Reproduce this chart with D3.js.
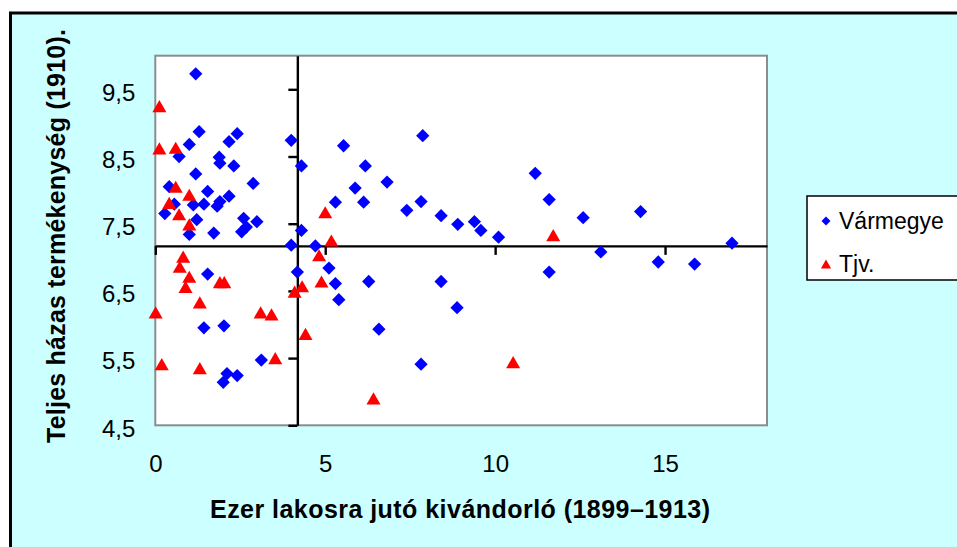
<!DOCTYPE html>
<html>
<head>
<meta charset="utf-8">
<script src="https://cdn.jsdelivr.net/npm/d3@7"></script>
<style>
  html, body { margin: 0; padding: 0; background: #fff; }
  svg { display: block; }
  text { font-family: Arial, "Liberation Sans", sans-serif; fill: #000; }
</style>
</head>
<body>
<svg id="chart" width="957" height="547"></svg>
<script>
// Vármegye (county) points: emigrants per thousand inhabitants, total marital fertility
const countyX = [1.19, 1.29, 1.00, 0.70, 2.17, 2.41, 1.88, 1.90, 2.31, 1.19,
                 4.00, 4.30, 2.88, 0.41, 1.54, 2.17, 0.56, 1.12, 1.43, 1.90,
                 1.82, 0.28, 1.22, 2.60, 2.99, 2.68, 2.54, 1.00, 1.72, 4.30,
                 4.00, 1.54, 1.43, 2.02, 3.12, 2.11, 2.41, 2.00, 4.18, 5.54,
                 6.18, 7.87, 5.88, 6.82, 5.30, 6.13, 7.40, 7.82, 8.41, 8.90,
                 9.39, 9.58, 10.10, 11.18, 11.59, 12.59, 14.28, 16.97, 13.11, 14.80,
                 15.87, 11.59, 4.71, 5.11, 5.30, 5.40, 6.28, 8.41, 8.88, 6.58,
                 7.82];
const countyY = [9.73, 8.87, 8.68, 8.50, 8.72, 8.84, 8.49, 8.40, 8.36, 8.24,
                 8.74, 8.36, 8.10, 8.05, 7.98, 7.91, 7.79, 7.78, 7.79, 7.83,
                 7.76, 7.65, 7.56, 7.58, 7.53, 7.45, 7.38, 7.34, 7.36, 7.40,
                 7.18, 6.75, 5.95, 5.98, 5.47, 5.27, 5.24, 5.14, 6.78, 8.66,
                 8.36, 8.81, 8.03, 8.12, 7.82, 7.82, 7.70, 7.83, 7.62, 7.49,
                 7.53, 7.40, 7.30, 8.25, 7.86, 7.59, 7.68, 7.21, 7.08, 6.93,
                 6.90, 6.78, 7.17, 6.84, 6.61, 6.37, 6.64, 6.64, 6.25, 5.93,
                 5.41];

// Tjv. (town with municipal rights) points
const townX = [0.12, 0.12, 0.60, 0.60, 1.00, 0.41, 0.70, 1.00, 0.82, 0.72,
               1.00, 0.89, 1.90, 2.03, 1.31, 0.01, 3.10, 3.42, 0.19, 1.31,
               3.53, 4.10, 4.32, 4.42, 5.00, 5.18, 4.82, 4.89, 6.42, 11.71,
               10.53];
const townY = [9.25, 8.62, 8.63, 8.05, 7.93, 7.81, 7.64, 7.49, 7.01, 6.86,
               6.71, 6.56, 6.63, 6.63, 6.33, 6.18, 6.18, 6.15, 5.41, 5.35,
               5.50, 6.49, 6.57, 5.86, 7.67, 7.25, 7.03, 6.64, 4.90, 7.33,
               5.44];

// Axis setup
const xDomain = [0, 18];
const yDomain = [4.5, 10];
const xTicks = [0, 5, 10, 15];
const yTicks = [4.5, 5.5, 6.5, 7.5, 8.5, 9.5];
const xCross = 4.18;   // where the value axis crosses the category axis
const yCross = 7.17;   // where the category axis crosses the value axis

const seriesNames = ["Vármegye", "Tjv."];
const xTitle = "Ezer lakosra jutó kivándorló (1899–1913)";
const yTitle = "Teljes házas termékenység (1910).";

const county = countyX.map((x, i) => ({ x, y: countyY[i] }));
const town = townX.map((x, i) => ({ x, y: townY[i] }));

const svg = d3.select("#chart");

// Chart background and frame
svg.append("rect").attr("x", 0).attr("y", 0).attr("width", 957).attr("height", 547).attr("fill", "#fff");
svg.append("rect")
  .attr("x", 10.5).attr("y", 13).attr("width", 1000).attr("height", 600)
  .attr("fill", "#CCFFFF").attr("stroke", "#000").attr("stroke-width", 3);

const plot = { left: 155.3, top: 55.7, right: 767, bottom: 425.3 };
const x = d3.scaleLinear().domain(xDomain).range([plot.left, plot.right]);
const y = d3.scaleLinear().domain(yDomain).range([plot.bottom, plot.top]);

// Plot area
svg.append("rect")
  .attr("x", plot.left).attr("y", plot.top)
  .attr("width", plot.right - plot.left).attr("height", plot.bottom - plot.top)
  .attr("fill", "#fff").attr("stroke", "#8c8c8c").attr("stroke-width", 2);

const locale = d3.formatLocale({ decimal: ",", thousands: " ", grouping: [3], currency: ["", ""] });
const fmtY = locale.format(".1f");

// Tick labels along the plot edges
const yLabelAxis = svg.append("g")
  .attr("transform", `translate(${plot.left},0)`)
  .call(d3.axisLeft(y).tickValues(yTicks).tickFormat(fmtY).tickSize(0).tickPadding(20));
yLabelAxis.select(".domain").remove();
yLabelAxis.selectAll("text").attr("font-size", 24).attr("dy", "0.45em")
  .style("font-family", "Arial, 'Liberation Sans', sans-serif");

const xLabelAxis = svg.append("g")
  .attr("transform", `translate(0,${plot.bottom})`)
  .call(d3.axisBottom(x).tickValues(xTicks).tickFormat(d3.format("d")).tickSize(0).tickPadding(30));
xLabelAxis.select(".domain").remove();
xLabelAxis.selectAll("text").attr("font-size", 24)
  .style("font-family", "Arial, 'Liberation Sans', sans-serif");

// Crossing axis lines with tick marks
const yLine = svg.append("g")
  .attr("transform", `translate(${x(xCross)},0)`)
  .call(d3.axisLeft(y).tickValues(yTicks).tickFormat("").tickSize(9).tickSizeOuter(0));
yLine.select(".domain").attr("stroke", "#000").attr("stroke-width", 2.4);
yLine.selectAll(".tick line").attr("stroke", "#000").attr("stroke-width", 2.4);

const xLine = svg.append("g")
  .attr("transform", `translate(0,${y(yCross)})`)
  .call(d3.axisBottom(x).tickValues(xTicks).tickFormat("").tickSize(9).tickSizeOuter(0));
xLine.select(".domain").attr("stroke", "#000").attr("stroke-width", 2.4);
xLine.selectAll(".tick line").attr("stroke", "#000").attr("stroke-width", 2.4);

// Markers
const diamondSize = 88;
const triangleSize = 85;
const diamond = d3.symbol().type(d3.symbolSquare).size(diamondSize);
const triangle = d3.symbol().type(d3.symbolTriangle).size(triangleSize);
// triangle side/height, used to centre its bounding box on the point
const triSide = Math.sqrt(triangleSize * 4 / Math.sqrt(3));
const triShift = (triSide * Math.sqrt(3) / 2) / 6;

svg.append("g").selectAll("path")
  .data(county).join("path")
  .attr("d", diamond)
  .attr("transform", d => `translate(${x(d.x)},${y(d.y)}) rotate(45)`)
  .attr("fill", "#0000FF");

svg.append("g").selectAll("path")
  .data(town).join("path")
  .attr("d", triangle)
  .attr("transform", d => `translate(${x(d.x)},${y(d.y) + triShift})`)
  .attr("fill", "#FF0000");

// Axis titles
svg.append("text")
  .attr("x", 460).attr("y", 518)
  .attr("text-anchor", "middle")
  .attr("font-size", 25).attr("font-weight", "bold")
  .attr("textLength", 500).attr("lengthAdjust", "spacing")
  .text(xTitle);

svg.append("text")
  .attr("transform", "translate(65,236) rotate(-90)")
  .attr("text-anchor", "middle")
  .attr("font-size", 25).attr("font-weight", "bold")
  .attr("textLength", 414).attr("lengthAdjust", "spacing")
  .text(yTitle);

// Legend
const legend = svg.append("g");
legend.append("rect")
  .attr("x", 807).attr("y", 196).attr("width", 200).attr("height", 84)
  .attr("fill", "#fff").attr("stroke", "#000").attr("stroke-width", 1.5);
const legendSymbols = [
  d3.symbol().type(d3.symbolSquare).size(40),
  d3.symbol().type(d3.symbolTriangle).size(45)
];
const legendRows = [
  { name: seriesNames[0], sym: legendSymbols[0], color: "#0000FF", rot: 45, cy: 221 },
  { name: seriesNames[1], sym: legendSymbols[1], color: "#FF0000", rot: 0, cy: 264 }
];
legendRows.forEach(r => {
  legend.append("path")
    .attr("d", r.sym())
    .attr("transform", `translate(826,${r.cy + (r.rot ? 0 : 1.5)}) rotate(${r.rot})`)
    .attr("fill", r.color);
  legend.append("text")
    .attr("x", 839).attr("y", r.cy + 8)
    .attr("font-size", 23)
    .text(r.name);
});
</script>
</body>
</html>
